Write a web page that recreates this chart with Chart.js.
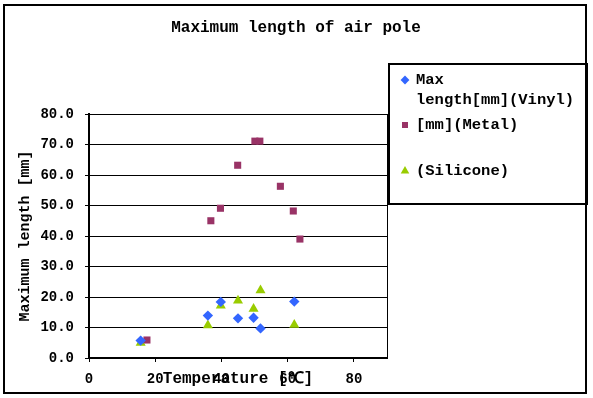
<!DOCTYPE html>
<html>
<head>
<meta charset="utf-8">
<script src="https://cdn.jsdelivr.net/npm/chart.js@4/dist/chart.umd.min.js"></script>
<style>
  html, body { margin: 0; padding: 0; background: #fff; }
  #wrap { width: 593px; height: 398px; }
</style>
</head>
<body>
<div id="wrap"><canvas id="chart" width="593" height="398"></canvas></div>
<script>
//  DATA
var vinylX = [15.6, 35.9, 39.8, 45.0, 49.7, 51.8, 62.0];
var vinylY = [5.7, 13.9, 18.4, 13.0, 13.2, 9.7, 18.5];

var metalX = [17.5, 36.8, 39.7, 44.9, 50.1, 51.6, 57.8, 61.7, 63.7];
var metalY = [5.9, 45.0, 49.1, 63.2, 71.1, 71.1, 56.3, 48.2, 39.0];

var siliconeX = [15.6, 35.9, 39.8, 45.0, 49.7, 51.8, 62.0];
var siliconeY = [5.0, 10.7, 17.2, 18.8, 16.1, 22.2, 10.9];

var seriesNames = ["Max\nlength[mm](Vinyl)", "[mm](Metal)", "(Silicone)"];
var chartTitle = "Maximum length of air pole";
var xTitle = "Temperature [℃]";
var yTitle = "Maximum length [mm]";

var FONT = "'Liberation Mono', 'DejaVu Sans Mono', monospace";

//  HELPERS
function toPoints(xs, ys) {
  var out = [];
  for (var i = 0; i < xs.length; i++) out.push({ x: xs[i], y: ys[i] });
  return out;
}

//  FRAME + TITLE + LEGEND
var framePlugin = {
  id: "frame",
  afterDraw: function (chart) {
    var ctx = chart.ctx;
    var a = chart.chartArea;
    ctx.save();

    // plot box (top/right edges)
    ctx.strokeStyle = "#000";
    ctx.lineWidth = 1;
    ctx.strokeRect(a.left + 0.5, a.top + 0.5, a.right - a.left, a.bottom - a.top);

    // outer border
    ctx.lineWidth = 2;
    ctx.strokeRect(4, 5, 582, 388);

    // title
    ctx.fillStyle = "#000";
    ctx.font = "bold 16px " + FONT;
    ctx.textAlign = "center";
    ctx.textBaseline = "middle";
    ctx.fillText(chartTitle, 296, 28);

    // legend box
    ctx.lineWidth = 2;
    ctx.strokeRect(389, 64, 198, 140);

    var rows = [
      { y: 80, lines: seriesNames[0].split("\n") },
      { y: 125, lines: seriesNames[1].split("\n") },
      { y: 171, lines: seriesNames[2].split("\n") },
    ];

    ctx.font = "bold 15.5px " + FONT;
    ctx.textAlign = "left";
    for (var i = 0; i < rows.length; i++) {
      var ds = chart.data.datasets[i];
      ctx.fillStyle = ds.backgroundColor;
      ctx.strokeStyle = ds.borderColor;
      Chart.helpers.drawPoint(ctx, {
        pointStyle: ds.pointStyle,
        radius: ds.pointRadius * 0.85,
        rotation: 0,
        borderWidth: 0,
      }, 405, rows[i].y);
      ctx.fillStyle = "#000";
      for (var j = 0; j < rows[i].lines.length; j++) {
        ctx.fillText(rows[i].lines[j], 416, rows[i].y + j * 20);
      }
    }
    ctx.restore();
  },
};

//  CHART
new Chart(document.getElementById("chart"), {
  type: "scatter",
  data: {
    datasets: [
      {
        label: seriesNames[0],
        data: toPoints(vinylX, vinylY),
        pointStyle: "rectRot",
        pointRadius: 5.2,
        backgroundColor: "#3366ff",
        borderColor: "#3366ff",
        borderWidth: 0,
      },
      {
        label: seriesNames[1],
        data: toPoints(metalX, metalY),
        pointStyle: "rect",
        pointRadius: 5,
        backgroundColor: "#993366",
        borderColor: "#993366",
        borderWidth: 0,
      },
      {
        label: seriesNames[2],
        data: toPoints(siliconeX, siliconeY),
        pointStyle: "triangle",
        pointRadius: 5.8,
        backgroundColor: "#99cc00",
        borderColor: "#99cc00",
        borderWidth: 0,
      },
    ],
  },
  options: {
    responsive: false,
    animation: false,
    layout: { padding: { left: 0, top: 114, right: 206, bottom: 0 } },
    plugins: {
      legend: { display: false },
      title: { display: false },
      tooltip: { enabled: false },
    },
    scales: {
      x: {
        type: "linear",
        min: 0,
        max: 90,
        afterFit: function (s) { s.height = 40; },
        ticks: {
          stepSize: 20,
          includeBounds: false,
          color: "#000",
          padding: 9,
          maxRotation: 0,
          font: { family: FONT, size: 14, weight: "bold" },
        },
        grid: { drawOnChartArea: false, color: "#000", tickLength: 4 },
        border: { color: "#000", width: 2 },
        title: {
          display: true,
          text: xTitle,
          color: "#000",
          padding: { top: 0, bottom: 9 },
          font: { family: FONT, size: 16, weight: "bold" },
        },
      },
      y: {
        type: "linear",
        min: 0,
        max: 80,
        afterFit: function (s) { s.width = 89; },
        ticks: {
          stepSize: 10,
          color: "#000",
          padding: 11,
          font: { family: FONT, size: 14, weight: "bold" },
          callback: function (v) { return v.toFixed(1); },
        },
        grid: { color: "#000", lineWidth: 1, tickLength: 4 },
        border: { color: "#000", width: 2 },
        title: {
          display: true,
          text: yTitle,
          color: "#000",
          padding: { top: 16, bottom: 0 },
          font: { family: FONT, size: 15, weight: "bold" },
        },
      },
    },
  },
  plugins: [framePlugin],
});
</script>
</body>
</html>
